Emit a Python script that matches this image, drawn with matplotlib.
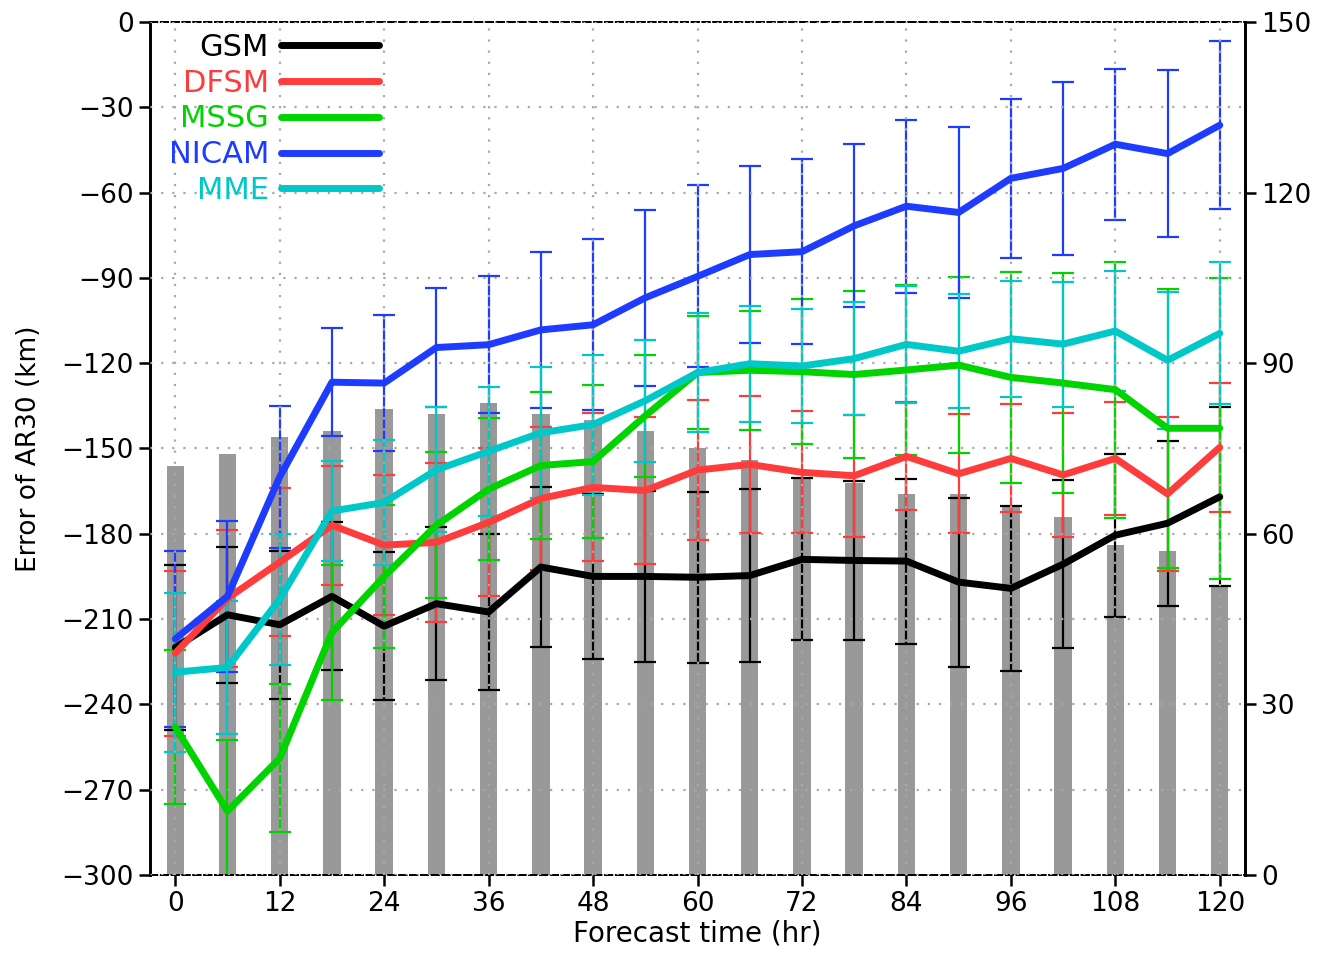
import matplotlib
matplotlib.use('Agg')
import matplotlib.pyplot as plt

hours = [0, 6, 12, 18, 24, 30, 36, 42, 48, 54, 60, 66, 72, 78, 84, 90, 96, 102, 108, 114, 120]

# number of samples (right axis)
counts = [72, 74, 77, 78, 82, 81, 83, 81, 80, 78, 75, 73, 70, 69, 67, 67, 65, 63, 58, 57, 51]

gsm = [-220, -208.5, -212, -202, -212.5, -204.6, -207.5, -191.7, -195, -195, -195.3,
       -194.7, -189, -189.4, -189.6, -197, -199.2, -190.7, -180.5, -176.3, -167]
gsm_err = [29, 24, 26, 26, 26, 27, 27.5, 28, 29, 30, 30, 30.5, 28.5, 28, 29, 29.7, 29,
           29.5, 28.7, 29, 31.5]

dfsm = [-222, -202.7, -190, -177, -184, -183, -176, -167.6, -163.7, -164.8, -157.6,
        -155.6, -158.4, -159.6, -152.8, -158.9, -153.5, -159.3, -153.5, -166, -149.6]
dfsm_err = [29, 24, 26, 21, 24.7, 28, 26, 25, 26, 25.7, 24.6, 24, 21.5, 21.5, 19, 21, 19,
            21.7, 20, 27, 22.7]

mssg = [-248, -277.5, -259, -214.7, -195, -177, -164.3, -156, -154.6, -138.5, -123.3,
        -122.5, -123, -124, -122.4, -120.7, -125, -127, -129.3, -142.9, -142.9]
mssg_err = [27, 25, 26, 23.7, 25, 25.6, 25, 26, 27, 21.5, 20, 21, 25.6, 29.4, 30, 31, 37,
            38.6, 45, 49, 53]

nicam = [-217, -202, -160, -126.7, -127, -114.5, -113.5, -108.3, -106.5, -97, -89.5,
         -81.8, -80.8, -71.7, -64.8, -67, -55, -51.5, -43, -46.3, -36.3]
nicam_err = [31, 26.5, 25, 19, 24, 21, 24, 27.5, 30, 31, 32, 31, 32.6, 28.7, 30.4, 30, 28,
             30.5, 26.6, 29.5, 29.5]

mme = [-228.7, -227, -203, -172, -169, -157.5, -151, -144.5, -141.6, -133.2, -123.3,
       -120.2, -121, -118.4, -113.4, -115.8, -111.4, -113.3, -108.7, -119, -109.5]
mme_err = [28, 23.5, 23, 17.5, 22, 22, 22.6, 23, 24.6, 21.5, 21, 20.4, 20, 19.8, 20.6, 20,
           20.4, 22, 21, 24, 25]

names = ['GSM', 'DFSM', 'MSSG', 'NICAM', 'MME']
colors = ['black', '#ff3c3c', '#00d400', '#1e3cff', '#00c8c8']
series = [gsm, dfsm, mssg, nicam, mme]
errors = [gsm_err, dfsm_err, mssg_err, nicam_err, mme_err]

plt.rcParams['font.family'] = ['DejaVu Sans']

fig = plt.figure(figsize=(13.31, 9.55), dpi=100)
ax = fig.add_axes([0.1127, 0.0838, 0.8227, 0.8932])
ax2 = ax.twinx()

ax2.bar(hours, counts, width=2.0, color='#999999', zorder=1)
ax2.set_ylim(0, 150)
ax2.set_yticks([0, 30, 60, 90, 120, 150])

ax.set_zorder(ax2.get_zorder() + 1)
ax.patch.set_visible(False)

handles = []
for vals, err, c, n in zip(series, errors, colors, names):
    ax.errorbar(hours, vals, yerr=err, fmt='none', ecolor=c, elinewidth=1.6,
                capsize=8, capthick=1.6, zorder=2)
for vals, c, n in zip(series, colors, names):
    ln, = ax.plot(hours, vals, color=c, lw=5, zorder=3, label=n, solid_capstyle='round')
    handles.append(ln)

ax.set_xlim(-2.9, 122.9)
ax.set_ylim(-300, 0)
ax.set_xticks(hours[::2])
ax.set_yticks(range(-300, 1, 30))

ax.set_axisbelow(False)
ax.grid(True, color='#a8a8a8', linestyle=(0, (1, 4)), lw=1.6)

for a in (ax, ax2):
    for s in ('top', 'bottom'):
        a.spines[s].set_linestyle((0, (4, 2)))
        a.spines[s].set_linewidth(1.3)
    for s in ('left', 'right'):
        a.spines[s].set_linewidth(2)
    a.tick_params(direction='out', length=8, width=1.8, labelsize=19)

ax.set_xlabel('Forecast time (hr)', fontsize=20, labelpad=2)
ax.set_ylabel('Error of AR30 (km)', fontsize=19, labelpad=14)

leg = ax.legend(handles=handles, loc='upper left', bbox_to_anchor=(0.017, 0.987),
                frameon=False, markerfirst=False, alignment='right', fontsize=22,
                handlelength=3.2, handletextpad=0.4, labelspacing=0.22,
                borderpad=0, borderaxespad=0)
for t, c in zip(leg.get_texts(), colors):
    t.set_color(c)

fig.savefig('out.png', dpi=100)
